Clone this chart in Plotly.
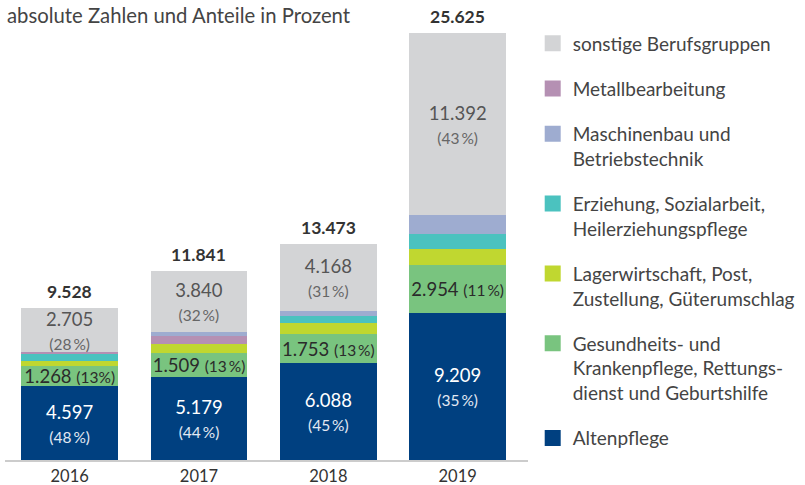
import plotly.graph_objects as go

years = ["2016", "2017", "2018", "2019"]
altenpflege = [4597, 5179, 6088, 9209]
gesundheit = [1268, 1509, 1753, 2954]
lager = [290, 560, 744, 1000]
erziehung = [460, 0, 400, 980]
metall = [150, 470, 0, 0]
maschinenbau = [0, 280, 320, 1140]
sonstige = [2705, 3840, 4168, 11392]
totals = [9528, 11841, 13473, 25625]
alt_pct = [48, 44, 45, 35]
ges_pct = [13, 13, 13, 11]
son_pct = [28, 32, 31, 43]

names = {
    "alt": "Altenpflege",
    "ges": "Gesundheits- und<br>Krankenpflege, Rettungs-<br>dienst und Geburtshilfe",
    "lag": "Lagerwirtschaft, Post,<br>Zustellung, Güterumschlag",
    "erz": "Erziehung, Sozialarbeit,<br>Heilerziehungspflege",
    "mas": "Maschinenbau und<br>Betriebstechnik",
    "met": "Metallbearbeitung",
    "son": "sonstige Berufsgruppen",
}
colors = {
    "alt": "#004080",
    "ges": "#79c47f",
    "lag": "#c0d730",
    "erz": "#4bc2bf",
    "mas": "#9eacd0",
    "met": "#b590b3",
    "son": "#d3d4d6",
}

FONT = "Lato"


def de(v):
    return f"{v:,}".replace(",", ".")


def two_line(vals, pcts, pc_color):
    return [f"{de(v)}<br><span style='font-size:15.5px;color:{pc_color}'>({p}\u2009%)</span>"
            for v, p in zip(vals, pcts)]


alt_text = two_line(altenpflege, alt_pct, "#e3e9f3")
son_text = two_line(sonstige, son_pct, "#666666")
ges_text = [f"{de(v)} <span style='font-size:15.5px'>({p}{'' if i == 0 else chr(8201)}%)</span>"
            for i, (v, p) in enumerate(zip(gesundheit, ges_pct))]

fig = go.Figure()

stack = [
    ("alt", altenpflege, alt_text, "white"),
    ("ges", gesundheit, ges_text, "#2b2b2b"),
    ("lag", lager, None, None),
    ("erz", erziehung, None, None),
    ("met", metall, None, None),
    ("mas", maschinenbau, None, None),
    ("son", sonstige, son_text, "#555555"),
]
for key, vals, txt, tcol in stack:
    fig.add_trace(go.Bar(
        x=years, y=vals, name=names[key],
        marker=dict(color=colors[key], line=dict(width=0)),
        text=txt,
        textposition="inside" if txt else "none",
        insidetextanchor="middle",
        constraintext="none",
        textfont=dict(family=FONT, size=18.5, color=tcol or "#333"),
        hoverinfo="skip",
        showlegend=False,
    ))

legend_order = ["son", "met", "mas", "erz", "lag", "ges", "alt"]
for key in legend_order:
    fig.add_trace(go.Scatter(
        x=[None], y=[None], mode="markers", name=names[key],
        marker=dict(symbol="square", size=16, color=colors[key]),
        legendgroup=key, showlegend=True,
    ))

stack_tops = [sum(s[1][i] for s in stack) for i in range(len(years))]
for i, (top, tot) in enumerate(zip(stack_tops, totals)):
    fig.add_annotation(
        x=i, y=top, text=f"<b>{de(tot)}</b>", showarrow=False,
        yanchor="bottom", yshift=4,
        font=dict(family=FONT, size=17.5, color="#333333"),
    )

fig.add_annotation(
    xref="paper", yref="paper", x=0.0, y=1.0, yshift=5,
    xanchor="left", yanchor="middle",
    text="absolute Zahlen und Anteile in Prozent", showarrow=False,
    font=dict(family=FONT, size=20.3, color="#444444"),
)

fig.update_layout(
    width=805, height=485,
    margin=dict(l=5, r=265, t=20, b=25),
    barmode="stack", bargap=0.252,
    plot_bgcolor="white", paper_bgcolor="white",
    font=dict(family=FONT, color="#444444"),
    xaxis=dict(
        type="category", range=[-0.5, 3.544],
        showline=True, linecolor="#cccccc", linewidth=1.5,
        showgrid=False, ticks="", tickfont=dict(family=FONT, size=16.5, color="#333333"),
        automargin=False,
    ),
    yaxis=dict(range=[0, 27487], visible=False, showgrid=False, zeroline=False),
    legend=dict(
        x=1.009, xref="paper", xanchor="left", y=0.99, yanchor="top",
        traceorder="grouped", tracegroupgap=17.5, valign="top",
        font=dict(family=FONT, size=19, color="#444444"),
        bgcolor="rgba(0,0,0,0)", itemclick=False,
    ),
    showlegend=True,
)

fig.write_html("out.html", config={"displayModeBar": False},
               post_script="document.body.style.margin='0';")
